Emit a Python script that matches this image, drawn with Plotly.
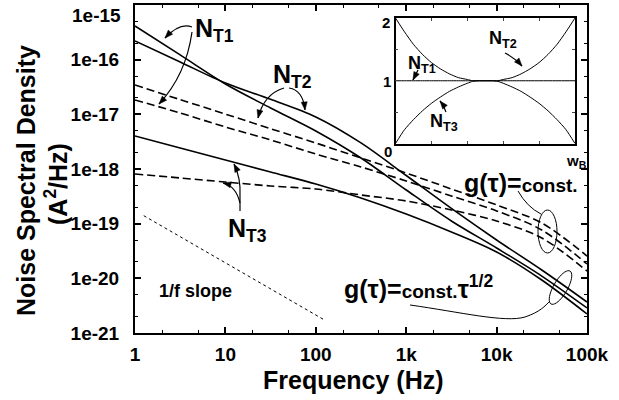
import math
import plotly.graph_objects as go

# ---------------- data ----------------
freq = [1, 3.16, 10, 31.6, 100, 316, 1000, 3160, 10000, 31600, 100000]

# g(tau) = const * tau^(1/2)  (solid)
nt1_sqrt = [4.13e-16, 1.22e-16, 3.59e-17, 1.31e-17, 4.96e-18, 1.59e-18, 4.13e-19, 1.12e-19, 3.59e-20, 1.10e-20, 2.87e-21]
nt2_sqrt = [2.20e-16, 9.06e-17, 3.74e-17, 1.88e-17, 8.95e-18, 3.00e-18, 7.60e-19, 1.90e-19, 5.03e-20, 1.42e-20, 3.69e-21]
nt3_sqrt = [4.02e-18, 2.42e-18, 1.46e-18, 8.81e-19, 5.32e-19, 2.95e-19, 1.50e-19, 7.05e-20, 3.03e-20, 9.33e-21, 2.23e-21]

# g(tau) = const  (dashed)
nt2_const = [3.44e-17, 1.86e-17, 1.01e-17, 5.46e-18, 2.99e-18, 1.59e-18, 8.45e-19, 4.31e-19, 2.20e-19, 1.03e-19, 2.56e-20]
nt1_const = [1.83e-17, 1.06e-17, 5.87e-18, 3.40e-18, 1.88e-18, 1.09e-18, 6.04e-19, 3.21e-19, 1.71e-19, 7.66e-20, 1.83e-20]
nt3_const = [8.11e-19, 6.85e-19, 5.78e-19, 4.89e-19, 4.31e-19, 3.35e-19, 2.60e-19, 1.78e-19, 1.12e-19, 5.47e-20, 1.36e-20]

# 1/f slope guide
slope_freq = [1.25, 127]
slope_psd = [1.4e-19, 1.7e-21]

x_tickvals = [1, 10, 100, 1000, 10000, 100000]
x_ticktext = ["1", "10", "100", "1k", "10k", "100k"]
y_tickvals = [1e-21, 1e-20, 1e-19, 1e-18, 1e-17, 1e-16, 1e-15]
y_ticktext = ["1e-21", "1e-20", "1e-19", "1e-18", "1e-17", "1e-16", ""]
top_tick_label = "1e-15"

# inset: trap distribution across the barrier (0 .. W_B)
inset_x = [0, 0.05, 0.1, 0.15, 0.2, 0.25, 0.3, 0.35, 0.4, 0.43, 0.46, 0.5,
           0.54, 0.57, 0.6, 0.65, 0.7, 0.75, 0.8, 0.85, 0.9, 0.95, 1.0]
inset_nt1 = [1.0] * len(inset_x)
inset_nt2 = [2.0, 1.78, 1.58, 1.42, 1.29, 1.19, 1.11, 1.05, 1.02, 1.0, 1.0, 1.0,
             1.0, 1.0, 1.02, 1.05, 1.11, 1.19, 1.29, 1.42, 1.58, 1.78, 2.0]
inset_nt3 = [0.0, 0.22, 0.38, 0.52, 0.64, 0.74, 0.83, 0.90, 0.96, 0.99, 1.0, 1.0,
             1.0, 0.99, 0.96, 0.90, 0.83, 0.74, 0.64, 0.52, 0.38, 0.22, 0.0]

# ---------------- geometry helpers (pixel -> paper) ----------------
W, H = 619, 400
L, R, T, B = 135, 32, 5, 67
PW = W - L - R
PH = H - T - B


def pxx(x):
    return (x - L) / PW


def pyy(y):
    return (H - B - y) / PH


FONT = "Liberation Sans, Arial, Helvetica, sans-serif"

fig = go.Figure()


def add_curve(y, dash, width=1.6):
    fig.add_trace(go.Scatter(
        x=freq, y=y, mode="lines", showlegend=False, hoverinfo="skip",
        line=dict(color="black", width=width, dash=dash, shape="spline", smoothing=0.9)))


for s in (nt1_sqrt, nt2_sqrt, nt3_sqrt):
    add_curve(s, "solid")
for s in (nt2_const, nt1_const, nt3_const):
    add_curve(s, "8px,4px")

fig.add_trace(go.Scatter(x=slope_freq, y=slope_psd, mode="lines", showlegend=False,
                         hoverinfo="skip", line=dict(color="black", width=1, dash="3px,3px")))

# inset traces
for s in (inset_nt1, inset_nt2, inset_nt3):
    fig.add_trace(go.Scatter(x=inset_x, y=s, xaxis="x2", yaxis="y2", mode="lines",
                             showlegend=False, hoverinfo="skip",
                             line=dict(color="black", width=1, shape="spline", smoothing=0.6)))

shapes = []
annotations = []


def fmt(p):
    return f"{pxx(p[0]):.5f},{pyy(p[1]):.5f}"


def add_path(d, width=1.2, fill=None):
    shp = dict(type="path", path=d, xref="paper", yref="paper",
               line=dict(color="black", width=width))
    if fill:
        shp["fillcolor"] = fill
    shapes.append(shp)


def arrow_head(tip, frm, length=8, half=3):
    dx, dy = tip[0] - frm[0], tip[1] - frm[1]
    n = math.hypot(dx, dy)
    ux, uy = dx / n, dy / n
    bx, by = tip[0] - ux * length, tip[1] - uy * length
    p1 = (bx - uy * half, by + ux * half)
    p2 = (bx + uy * half, by - ux * half)
    add_path(f"M {fmt(tip)} L {fmt(p1)} L {fmt(p2)} Z", width=0.5, fill="black")


def curved_arrow(start, ctrl, tip):
    add_path(f"M {fmt(start)} Q {fmt(ctrl)} {fmt(tip)}")
    arrow_head(tip, ctrl)


def text(x, y, s, size, xanchor="left", yanchor="middle", angle=0):
    annotations.append(dict(x=pxx(x), y=pyy(y), xref="paper", yref="paper", text=s,
                            showarrow=False, xanchor=xanchor, yanchor=yanchor,
                            textangle=angle,
                            font=dict(family=FONT, size=size, color="black", weight="bold")))


# top y tick label (drawn slightly inside, as in the reference)
text(123, 15, top_tick_label, 19, xanchor="right")

# N_T1
text(193, 30, "N<sub>T1</sub>", 25)
curved_arrow((192, 27), (180, 22), (165, 38))
curved_arrow((192, 32), (186, 75), (159, 104))
# N_T2
text(271, 76, "N<sub>T2</sub>", 25)
curved_arrow((284, 88), (264, 94), (258, 118))
curved_arrow((289, 88), (303, 90), (305, 110))
# N_T3
text(226, 230, "N<sub>T3</sub>", 25)
add_path(f"M {fmt((240, 211))} L {fmt((240, 196))}")
curved_arrow((240, 196), (241, 178), (234, 164))
curved_arrow((240, 203), (236, 186), (223, 183))

# 1/f slope label
text(157, 291, "1/f slope", 18)

# g(tau)=const.
text(462, 183, "g(τ)=<span style='font-size:19px'>const.</span>", 25)
add_path(f"M {fmt((518, 191))} Q {fmt((527, 207))} {fmt((541, 214))}", width=1)
shapes.append(dict(type="circle", xref="paper", yref="paper",
                   x0=pxx(538), x1=pxx(557), y0=pyy(253), y1=pyy(210),
                   line=dict(color="black", width=1)))

# g(tau)=const.tau^1/2
text(342, 287, "g(τ)=<span style='font-size:19px'>const.</span>τ<sup>1/2</sup>", 25)
add_path(f"M {fmt((410, 305))} C {fmt((460, 312))} {fmt((505, 323))} {fmt((525, 317))} "
         f"C {fmt((540, 312))} {fmt((545, 306))} {fmt((550, 301))}", width=1)
# tilted ellipse
cx, cy, a, b, th = 560.5, 287.5, 19, 7, math.radians(-60)
pts = []
for k in range(40):
    t = 2 * math.pi * k / 40
    ex, ey = a * math.cos(t), b * math.sin(t)
    pts.append((cx + ex * math.cos(th) - ey * math.sin(th), cy + ex * math.sin(th) + ey * math.cos(th)))
add_path("M " + fmt(pts[0]) + " " + " ".join("L " + fmt(p) for p in pts[1:]) + " Z", width=1)

# inset labels
text(386, 22, "2", 15, xanchor="center")
text(387, 81, "1", 15, xanchor="center")
text(388, 152, "0", 15, xanchor="center")
text(576, 161, "w<sub>B</sub>", 15, xanchor="center")
text(406, 64, "N<sub>T1</sub>", 18)
curved_arrow((418, 70), (416, 74), (413, 80))
text(487, 40, "N<sub>T2</sub>", 18)
curved_arrow((505, 53), (515, 58), (522, 66))
text(428, 122, "N<sub>T3</sub>", 18)
curved_arrow((446, 112), (444, 106), (440, 101))

# axis titles
text(353, 380, "Frequency (Hz)", 25, xanchor="center")
text(26, 181, "Noise Spectral Density", 25, xanchor="center", angle=-90)
text(56, 184, "(A<sup>2</sup>/Hz)", 25, xanchor="center", angle=-90)

axis_common = dict(showline=True, linewidth=2, linecolor="black", mirror="ticks",
                   ticks="inside", ticklen=6, tickwidth=1.5, tickcolor="black",
                   showgrid=False, zeroline=False,
                   tickfont=dict(family=FONT, size=19, color="black", weight="bold"),
                   minor=dict(ticks="inside", ticklen=3, tickwidth=1, tickcolor="black",
                              dtick="D2", showgrid=False))

fig.update_layout(
    width=W, height=H,
    margin=dict(l=L, r=R, t=T, b=B, autoexpand=False),
    paper_bgcolor="white", plot_bgcolor="white",
    font=dict(family=FONT, color="black"),
    showlegend=False,
    xaxis=dict(type="log", range=[0, 5], tickmode="array", tickvals=x_tickvals,
               ticktext=x_ticktext, ticklabelstandoff=3, automargin=False, **axis_common),
    yaxis=dict(type="log", range=[-21, -15], tickmode="array", tickvals=y_tickvals,
               ticktext=y_ticktext, ticklabelstandoff=10, automargin=False, **axis_common),
    xaxis2=dict(domain=[pxx(395.5), pxx(575)], anchor="y2", range=[0, 1],
                showline=True, linewidth=1.5, linecolor="black", mirror="ticks",
                ticks="inside", ticklen=3, tickwidth=1, dtick=0.2, showticklabels=False,
                showgrid=False, zeroline=False),
    yaxis2=dict(domain=[pyy(143.5), pyy(18)], anchor="x2", range=[0, 2],
                showline=True, linewidth=1.5, linecolor="black", mirror="ticks",
                ticks="inside", ticklen=3, tickwidth=1, dtick=0.5, showticklabels=False,
                showgrid=False, zeroline=False),
    shapes=shapes,
    annotations=annotations,
)

fig.write_html("out.html", config={"displayModeBar": False},
               post_script="document.body.style.margin='0';")
